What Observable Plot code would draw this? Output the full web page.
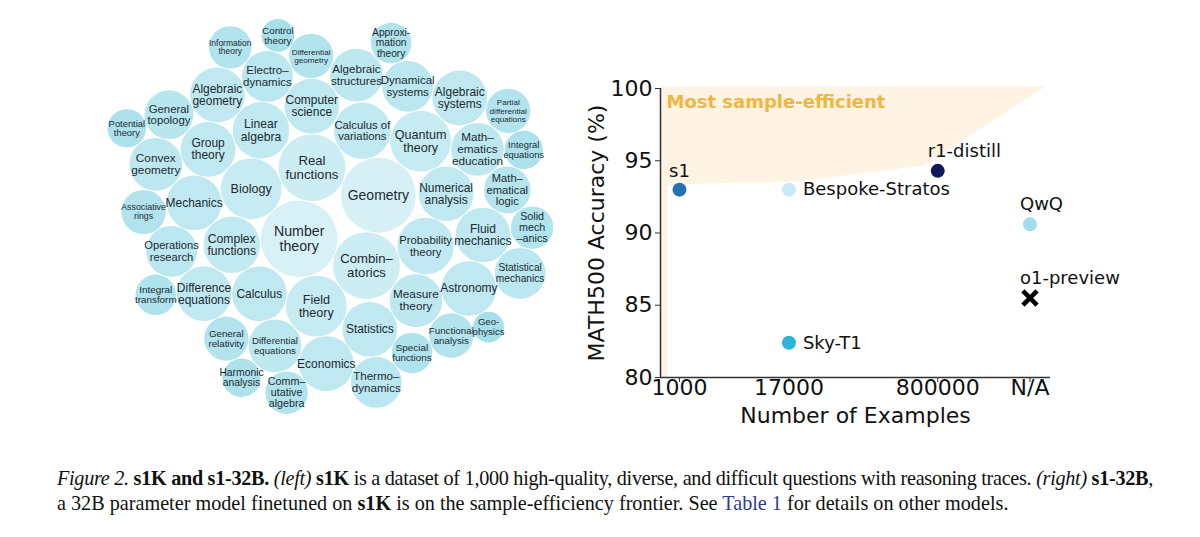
<!DOCTYPE html>
<html><head><meta charset="utf-8">
<script src="https://cdn.jsdelivr.net/npm/d3@7"></script>
<script src="https://cdn.jsdelivr.net/npm/@observablehq/plot@0.6"></script>
<style>
html,body{margin:0;padding:0;background:#fff}
body{width:1200px;height:537px;overflow:hidden;position:relative}
#bubbles{position:absolute;left:95px;top:16px}
#scatter{position:absolute;left:560px;top:60px}
#caption{position:absolute;left:57px;top:466px;width:1096px;font-family:"Liberation Serif",serif;font-size:20.2px;line-height:25px;color:#111}
#caption .ln{white-space:nowrap;display:inline-block}
</style></head><body>
<div id="bubbles"></div>
<div id="scatter"></div>
<div id="caption"><span class="ln" id="l1"><i>Figure 2.</i> <b>s1K and s1-32B.</b> <i>(left)</i> <b>s1K</b> is a dataset of 1,000 high-quality, diverse, and difficult questions with reasoning traces. <i>(right)</i> <b>s1-32B</b>,</span><br><span class="ln" id="l2">a 32B parameter model finetuned on <b>s1K</b> is on the sample-efficiency frontier. See <span style="color:#2b3a9a">Table 1</span> for details on other models.</span></div>
<script>
// ---------------- DATA: left panel (s1K domains) ----------------
const topicNames = ["Geometry","Number theory","Real functions","Combinatorics","Biology","Quantum theory","Field theory",
 "Linear algebra","Probability theory","Complex functions","Calculus of variations","Statistics","Group theory",
 "Numerical analysis","Calculus","Computer science","Astronomy","Mechanics","Algebraic systems","Economics",
 "Algebraic geometry","Fluid mechanics","Difference equations","Algebraic structures","Measure theory","Convex geometry",
 "Mathematics education","Differential equations","Electrodynamics","Statistical mechanics","Operations research",
 "Dynamical systems","Thermodynamics","General topology","Mathematical logic","General relativity","Differential geometry",
 "Functional analysis","Associative rings","Partial differential equations","Commutative algebra","Information theory",
 "Solid mechanics","Integral transform","Approximation theory","Special functions","Potential theory","Integral equations",
 "Harmonic analysis","Control theory","Geophysics"];
const topicLabels = ["Geometry","Number\ntheory","Real\nfunctions","Combin–\natorics","Biology","Quantum\ntheory","Field\ntheory",
 "Linear\nalgebra","Probability\ntheory","Complex\nfunctions","Calculus of\nvariations","Statistics","Group\ntheory",
 "Numerical\nanalysis","Calculus","Computer\nscience","Astronomy","Mechanics","Algebraic\nsystems","Economics",
 "Algebraic\ngeometry","Fluid\nmechanics","Difference\nequations","Algebraic\nstructures","Measure\ntheory","Convex\ngeometry",
 "Math–\nematics\neducation","Differential\nequations","Electro–\ndynamics","Statistical\nmechanics","Operations\nresearch",
 "Dynamical\nsystems","Thermo–\ndynamics","General\ntopology","Math–\nematical\nlogic","General\nrelativity","Differential\ngeometry",
 "Functional\nanalysis","Associative\nrings","Partial\ndifferential\nequations","Comm–\nutative\nalgebra","Information\ntheory",
 "Solid\nmech\n–anics","Integral\ntransform","Approxi-\nmation\ntheory","Special\nfunctions","Potential\ntheory","Integral\nequations",
 "Harmonic\nanalysis","Control\ntheory","Geo-\nphysics"];
const topicCounts = [137,144,109,109,90,90,90,78,78,78,78,73,73,73,73,73,73,73,73,73,73,73,73,68,68,68,68,68,63,63,63,63,63,
 58,53,48,48,48,48,48,44,44,44,40,40,40,36,36,36,26,23];

// ---------------- DATA: right panel (MATH500 vs. examples) ----------------
const modelNames = ["s1","Bespoke-Stratos","r1-distill","QwQ","o1-preview","Sky-T1"];
const modelExamples = [1000, 17000, 800000, "N/A", "N/A", 17000];
const modelAccuracy = [93.0, 93.0, 94.3, 90.6, 85.5, 82.4];
const xTickValues = [1000, 17000, 800000, "N/A"];
const xTickLabels = ["1000", "17000", "800000", "N/A"];
const yTickValues = [80, 85, 90, 95, 100];
// sample-efficiency frontier region (lower boundary, data units)
const frontierExamples = [612, 745, 745, 1300, 23000, 580000, 1.3e7];
const frontierAccuracy = [80, 80, 93.25, 93.35, 93.55, 94.65, 100.1];

// ---------------- LEFT: packed bubbles (force layout) ----------------
(function(){
  const W = 470, H = 400, pad = 0.1, k = 3.2; // px per sqrt(count) unit
  const nodes = topicNames.map((name,i)=>({name, label: topicLabels[i], count: topicCounts[i]}));
  nodes.forEach(d=>{ d.rr = Math.sqrt(d.count); });
  const sim = d3.forceSimulation(nodes)
    .force("x", d3.forceX(0).strength(0.07))
    .force("y", d3.forceY(0).strength(0.1))
    .force("collide", d3.forceCollide(d => d.rr + pad).strength(1).iterations(8))
    .stop();
  for (let i = 0; i < 800; i++) sim.tick();
  const x0 = d3.min(nodes,d=>d.x-d.rr), x1 = d3.max(nodes,d=>d.x+d.rr);
  const y0 = d3.min(nodes,d=>d.y-d.rr), y1 = d3.max(nodes,d=>d.y+d.rr);
  const kk = Math.min(k, W/(x1-x0), H/(y1-y0));
  const cx=(x0+x1)/2, cy=(y0+y1)/2;
  const fit = d => {
    const pr = d.rr*kk, lines = d.label.split("\n");
    const maxLen = d3.max(lines, s=>s.length);
    return Math.min(6.5 + 0.2*pr, 2.2*pr/(maxLen*0.5), 1.6*pr/(lines.length*1.05));
  };
  const chart = Plot.plot({
    width: W, height: H, margin: 0,
    x: {domain: [cx - W/(2*kk), cx + W/(2*kk)], axis: null},
    y: {domain: [cy + H/(2*kk), cy - H/(2*kk)], axis: null},
    r: {type: "linear", domain: [0, 1], range: [0, kk]},
    color: {type: "linear", domain: [d3.min(nodes,d=>d.rr), d3.max(nodes,d=>d.rr)], range: ["#a4dfea", "#d8f1f7"]},
    style: {background: "transparent"},
    marks: [
      Plot.dot(nodes, {x: "x", y: "y", r: "rr", fill: "rr", stroke: null}),
      Plot.text(nodes, {x: "x", y: "y", text: "label", fontSize: fit, lineHeight: 1.02,
        fill: "#1d2a30", fontFamily: "Liberation Sans, Arial, sans-serif"})
    ]
  });
  document.getElementById("bubbles").appendChild(chart);
})();

// ---------------- RIGHT: sample-efficiency scatter ----------------
(function(){
  const NA_POS = 8.7e6;
  const pos = v => v === "N/A" ? NA_POS : v;
  const pts = modelNames.map((name,i)=>({name, x: pos(modelExamples[i]), y: modelAccuracy[i]}));
  const frontier = frontierExamples.map((x,i)=>({x, y: frontierAccuracy[i]}));
  const ticks = xTickValues.map((v,i)=>({x: pos(v), label: xTickLabels[i]}));
  const xDomain = [612, 1.48e7];
  const colors = {"s1":"#2373b4","Bespoke-Stratos":"#c8ebf5","r1-distill":"#0c1a5c","QwQ":"#a0dced","Sky-T1":"#2cb4da","o1-preview":"#000"};
  const place = {"s1":"top","Bespoke-Stratos":"right","Sky-T1":"right","r1-distill":"topright","QwQ":"topright","o1-preview":"topright"};
  const ink = "#111";
  const chart = Plot.plot({
    width: 560, height: 380,
    marginLeft: 100, marginRight: 70, marginTop: 28, marginBottom: 63,
    x: {type: "log", domain: xDomain},
    y: {domain: [80, 100]},
    color: {domain: modelNames, range: modelNames.map(n=>colors[n])},
    style: {fontFamily: "DejaVu Sans, sans-serif", color: ink, background: "transparent", overflow: "visible"},
    marks: [
      Plot.areaY(frontier, {x: "x", y1: "y", y2: 100.1, fill: "#fff4e3"}),
      Plot.text(["Most sample-efficient"], {frameAnchor: "top-left", lineAnchor: "middle", textAnchor: "start",
        dx: 6, dy: 14, fontSize: 18, fontWeight: "bold", fill: "#f2b53e"}),
      Plot.ruleX([xDomain[0]], {stroke: "#333", strokeWidth: 1.5}),
      Plot.ruleY([80], {stroke: "#333", strokeWidth: 1.5}),
      Plot.axisY({ticks: yTickValues, tickSize: 5, tickPadding: 3, fontSize: 22, label: null, stroke: "#333"}),
      Plot.axisX({ticks: ticks.map(d=>d.x), tickFormat: () => "", tickSize: 5, label: null, stroke: "#333"}),
      Plot.text(ticks, {x: "x", text: "label", frameAnchor: "bottom", lineAnchor: "top", dy: 2, fontSize: 22, fill: ink}),
      Plot.text(["Number of Examples"], {frameAnchor: "bottom", lineAnchor: "middle", dy: 38, fontSize: 22, fill: ink}),
      Plot.text(["MATH500 Accuracy (%)"], {frameAnchor: "left", textAnchor: "middle", lineAnchor: "middle", rotate: -90, dx: -64, fontSize: 22, fill: ink}),
      Plot.dot(pts.filter(d=>d.name!=="o1-preview"), {x: "x", y: "y", r: 7, fill: "name", stroke: null}),
      Plot.dot(pts.filter(d=>d.name==="o1-preview"), {x: "x", y: "y", r: 6.5, symbol: "times", stroke: "#000", strokeWidth: 4.5}),
      Plot.text(pts.filter(d=>place[d.name]==="top"), {x: "x", y: "y", text: "name", dy: -18, fontSize: 18, fill: ink}),
      Plot.text(pts.filter(d=>place[d.name]==="right"), {x: "x", y: "y", text: "name", dx: 14, textAnchor: "start", fontSize: 18, fill: ink}),
      Plot.text(pts.filter(d=>place[d.name]==="topright"), {x: "x", y: "y", text: "name", dx: -10, dy: -20, textAnchor: "start", fontSize: 18, fill: ink})
    ]
  });
  document.getElementById("scatter").appendChild(chart);
})();

// caption: fit first line to the full width (shrink letters slightly if too long, else widen spaces)
(function(){
  const l1 = document.getElementById("l1");
  const w = l1.getBoundingClientRect().width;
  const txt = l1.textContent;
  const spaces = (txt.match(/ /g) || []).length;
  if (w > 1096) {
    l1.style.letterSpacing = ((1096 - w) / txt.length) + "px";
    const w2 = l1.getBoundingClientRect().width;
    l1.style.wordSpacing = ((1096 - w2) / spaces) + "px";
  } else {
    l1.style.wordSpacing = ((1096 - w) / spaces) + "px";
  }
})();
</script>
</body></html>
